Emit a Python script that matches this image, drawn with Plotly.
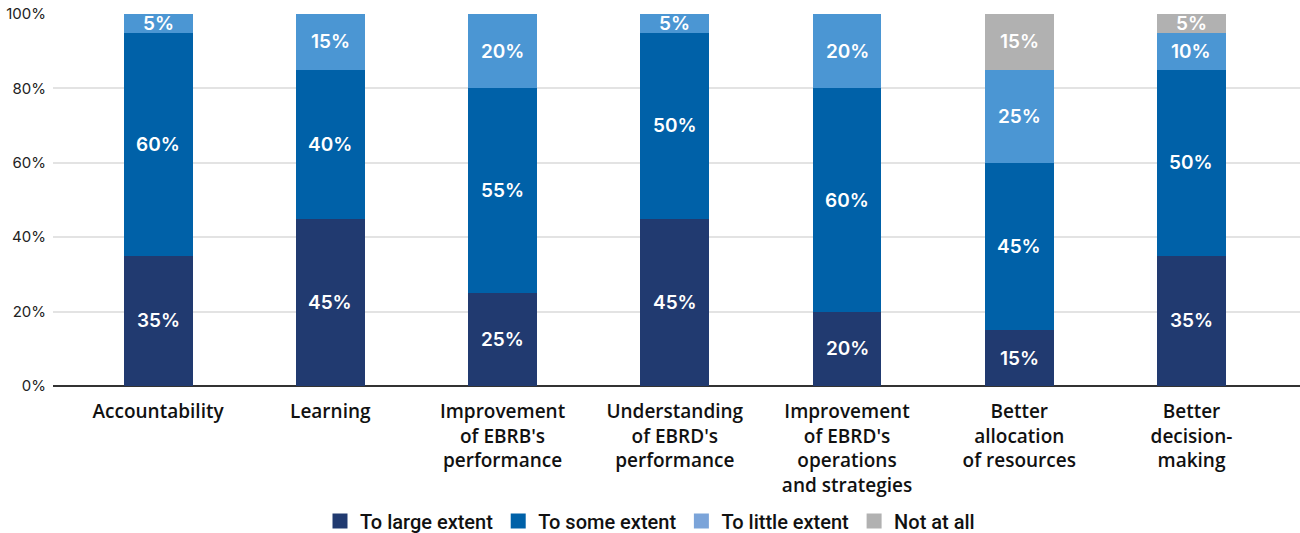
import plotly.graph_objects as go

categories = ["Accountability", "Learning", "Improvement<br>of EBRB's<br>performance",
              "Understanding<br>of EBRD's<br>performance",
              "Improvement<br>of EBRD's<br>operations<br>and strategies",
              "Better<br>allocation<br>of resources", "Better<br>decision-<br>making"]
series_names = ["To large extent", "To some extent", "To little extent", "Not at all"]
large = [35, 45, 25, 45, 20, 15, 35]
some = [60, 40, 55, 50, 60, 45, 50]
little = [5, 15, 20, 5, 20, 25, 10]
notatall = [0, 0, 0, 0, 0, 15, 5]
y_ticks = [0, 20, 40, 60, 80, 100]

colors = ["#213a70", "#0061a8", "#4b96d3", "#b1b1b1"]
legend_colors = ["#213a70", "#0061a8", "#7ba4d9", "#b1b1b1"]
series = [large, some, little, notatall]

fig = go.Figure()
xs = list(range(len(categories)))
for name, vals, c, lc in zip(series_names, series, colors, legend_colors):
    fig.add_trace(go.Bar(x=xs, y=vals, marker=dict(color=c, line=dict(width=0)),
                         name=name, showlegend=False, width=0.4))
    fig.add_trace(go.Scatter(x=[None], y=[None], mode="markers", name=name,
                             marker=dict(symbol="square", size=15, color=lc)))

annotations = []
for i in xs:
    base = 0
    for vals in series:
        v = vals[i]
        if v > 0:
            annotations.append(dict(x=i, y=base + v / 2, text=f"{v}%", showarrow=False,
                                    font=dict(family="Inter", size=19, color="white", weight=600),
                                    xref="x", yref="y"))
        base += v

fig.update_layout(
    width=1300, height=533,
    margin=dict(l=53, r=0, t=14, b=147, autoexpand=False),
    plot_bgcolor="white", paper_bgcolor="white",
    barmode="stack",
    annotations=annotations,
    xaxis=dict(tickvals=xs, ticktext=categories, range=[-0.61, 6.63],
               tickfont=dict(family="Open Sans", size=19, color="#111111", weight=600),
               showgrid=False, zeroline=False, showline=False, ticks="",
               automargin=False, ticklabelstandoff=12),
    yaxis=dict(range=[0, 100], tickvals=y_ticks, ticktext=[f"{t}%" for t in y_ticks],
               tickfont=dict(family="Inter", size=15, color="#222222"),
               gridcolor="#e3e3e3", gridwidth=1.5, zeroline=True, zerolinecolor="#333333",
               zerolinewidth=2, ticks="", ticklabelstandoff=6, automargin=False),
    legend=dict(orientation="h", x=0.5, xanchor="center", xref="container",
                y=(533 - 521) / 533, yanchor="middle", yref="container",
                font=dict(family="Roboto", size=20, color="#111111", weight=500),
                itemwidth=30, tracegroupgap=0, traceorder="normal"),
    bargap=0.6,
)
fig.write_html("out.html")
